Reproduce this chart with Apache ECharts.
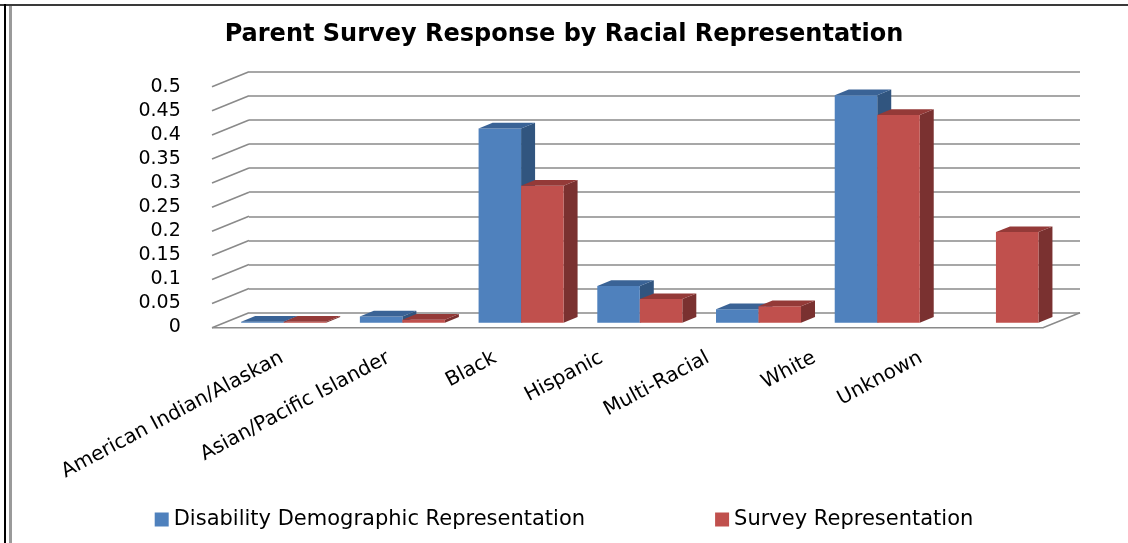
<!DOCTYPE html>
<html>
<head>
<meta charset="utf-8">
<title>Parent Survey Response by Racial Representation</title>
<script src="https://cdn.jsdelivr.net/npm/echarts@6/dist/echarts.min.js"></script>
<style>
    html, body { margin: 0; padding: 0; background: #fff; }
    #chart { width: 1128px; height: 543px; }
</style>
</head>
<body>
<div id="chart"></div>
<script>
    const categories = ['American Indian/Alaskan', 'Asian/Pacific Islander', 'Black', 'Hispanic', 'Multi-Racial', 'White', 'Unknown']
    const disabilityValues = [0.002, 0.013, 0.403, 0.076, 0.028, 0.472, null]
    const surveyValues = [0.002, 0.006, 0.284, 0.049, 0.034, 0.431, 0.188]
    const yTicks = [0, 0.05, 0.1, 0.15, 0.2, 0.25, 0.3, 0.35, 0.4, 0.45, 0.5]
    const seriesNames = ['Disability Demographic Representation', 'Survey Representation']

    const FONT = 'DejaVu Sans'
    // oblique depth of the 3D box (back wall -> front edge)
    const DEPTH_X = 37, DEPTH_Y = 15
    // bars sit a bit in front of the back wall
    const BAR_SHIFT_X = -24.7, BAR_SHIFT_Y = 10
    const BAR_DX = 14, BAR_DY = 5.7

    const palette = [
        { front: '#4F81BD', top: '#3A6396', side: '#31557F' },
        { front: '#C0504D', top: '#943A38', side: '#7A3130' }
    ]

    function barRenderer(idx) {
        const c = palette[idx]
        return function (params, api) {
            const v = api.value(1)
            if (v == null || isNaN(v)) return
            const top = api.coord([api.value(0), v])
            const base = api.coord([api.value(0), 0])
            const w = api.size([1, 0])[0] * 0.358
            const x0 = top[0] + BAR_SHIFT_X + (idx === 0 ? -w : 0)
            const yb = base[1] + BAR_SHIFT_Y
            const yt = Math.min(top[1] + BAR_SHIFT_Y, yb - 1)
            return {
                type: 'group',
                children: [{
                    type: 'polygon',
                    shape: { points: [[x0 + w, yt], [x0 + w, yb], [x0 + w + BAR_DX, yb - BAR_DY], [x0 + w + BAR_DX, yt - BAR_DY]] },
                    style: { fill: c.side }
                }, {
                    type: 'rect',
                    shape: { x: x0, y: yt, width: w, height: yb - yt },
                    style: { fill: c.front }
                }, {
                    type: 'polygon',
                    shape: { points: [[x0, yt], [x0 + w, yt], [x0 + w + BAR_DX, yt - BAR_DY], [x0 + BAR_DX, yt - BAR_DY]] },
                    style: { fill: c.top }
                }]
            }
        }
    }

    function wallRenderer(params, api) {
        const cs = params.coordSys
        const v = api.value(1)
        const y = api.coord([0, v])[1]
        const lineStyle = { stroke: '#8a8a8a', lineWidth: 1.6 }
        const children = [{
            type: 'line',
            shape: { x1: cs.x, y1: y, x2: cs.x - DEPTH_X, y2: y + DEPTH_Y },
            style: lineStyle
        }]
        if (v === 0) {
            children.push({
                type: 'polyline',
                shape: { points: [[cs.x - DEPTH_X, y + DEPTH_Y], [cs.x + cs.width - DEPTH_X, y + DEPTH_Y], [cs.x + cs.width, y]] },
                style: Object.assign({ fill: null }, lineStyle)
            })
        }
        return { type: 'group', children: children }
    }

    const dom = document.getElementById('chart')
    const chart = echarts.init(dom, null, { renderer: 'canvas' })

    const option = {
        animation: false,
        backgroundColor: '#fff',
        title: {
            text: 'Parent Survey Response by Racial Representation',
            left: 'center',
            top: 18,
            textStyle: { fontFamily: FONT, fontSize: 24, fontWeight: 'bold', color: '#000' }
        },
        legend: {
            data: seriesNames,
            bottom: 8,
            left: 'center',
            icon: 'rect',
            itemWidth: 14,
            itemHeight: 14,
            itemGap: 130,
            textStyle: { fontFamily: FONT, fontSize: 21, color: '#000' }
        },
        graphic: [
            { type: 'line', shape: { x1: 0, y1: 5, x2: 1128, y2: 5 }, style: { stroke: '#3a3a3a', lineWidth: 2 } },
            { type: 'line', shape: { x1: 5, y1: 4, x2: 5, y2: 543 }, style: { stroke: '#000', lineWidth: 2 } },
            { type: 'line', shape: { x1: 10.5, y1: 6, x2: 10.5, y2: 543 }, style: { stroke: '#9a9a9a', lineWidth: 3 } }
        ],
        grid: [
            // back wall
            { left: 249, top: 71.7, width: 831, height: 241 },
            // front edge: axis labels
            { left: 228.75, top: 86.7, width: 745.5, height: 240 }
        ],
        xAxis: [{
            type: 'category',
            gridIndex: 0,
            data: categories,
            show: false
        }, {
            type: 'category',
            gridIndex: 1,
            data: categories,
            axisLine: { show: false },
            axisTick: { show: false },
            axisLabel: {
                interval: 0,
                rotate: 28,
                margin: 30,
                fontFamily: FONT,
                fontSize: 20,
                color: '#000'
            }
        }],
        yAxis: [{
            type: 'value',
            gridIndex: 0,
            min: 0,
            max: 0.5,
            interval: 0.05,
            axisLine: { show: false },
            axisTick: { show: false },
            axisLabel: { show: false },
            splitLine: { show: true, lineStyle: { color: '#8a8a8a', width: 1.6 } }
        }, {
            type: 'value',
            gridIndex: 1,
            min: 0,
            max: 0.5,
            interval: 0.05,
            axisLine: { show: false },
            axisTick: { show: false },
            splitLine: { show: false },
            axisLabel: {
                margin: 48,
                fontFamily: FONT,
                fontSize: 19,
                color: '#000'
            }
        }],
        series: [{
            name: 'wall',
            type: 'custom',
            xAxisIndex: 0,
            yAxisIndex: 0,
            silent: true,
            renderItem: wallRenderer,
            data: yTicks.map(v => [0, v])
        }, {
            name: seriesNames[0],
            type: 'custom',
            xAxisIndex: 0,
            yAxisIndex: 0,
            itemStyle: { color: palette[0].front },
            renderItem: barRenderer(0),
            data: disabilityValues.map((v, i) => [i, v])
        }, {
            name: seriesNames[1],
            type: 'custom',
            xAxisIndex: 0,
            yAxisIndex: 0,
            itemStyle: { color: palette[1].front },
            renderItem: barRenderer(1),
            data: surveyValues.map((v, i) => [i, v])
        }]
    }

    chart.setOption(option)
    window.addEventListener('resize', () => chart.resize())
</script>
</body>
</html>
